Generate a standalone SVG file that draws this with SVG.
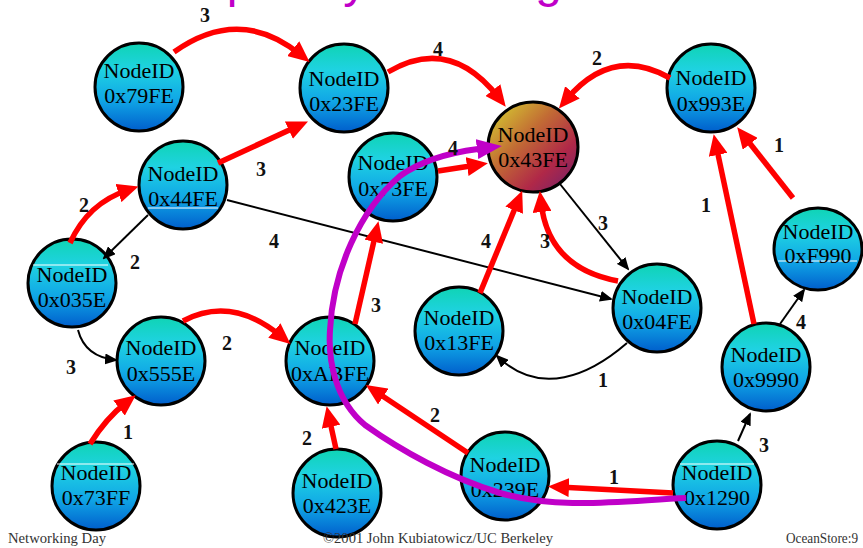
<svg xmlns="http://www.w3.org/2000/svg" width="863" height="548" viewBox="0 0 863 548">
<style>
.nd{stroke:#000;stroke-width:3;fill:url(#gBlue)}
.nt{font-family:"Liberation Serif","Times New Roman",serif;font-size:22px;fill:#000;text-anchor:middle}
.art{stroke:#fff;stroke-width:1.2}
.red{fill:none;stroke:#ff0000;stroke-width:5.5;marker-end:url(#aRed)}
.blk{fill:none;stroke:#000;stroke-width:2;marker-end:url(#aBlk)}
.mag{fill:none;stroke:#c000c8;stroke-width:6;marker-end:url(#aMag)}
.lb{font-family:"Liberation Serif","Times New Roman",serif;font-size:20px;font-weight:bold;fill:#111;text-anchor:middle}
.ft{font-family:"Liberation Serif","Times New Roman",serif;font-size:14px;fill:#333}
</style>
<defs>
<linearGradient id="gBlue" x1="0" y1="0" x2="0" y2="1">
<stop offset="0" stop-color="#0fd4b4"/>
<stop offset="0.3" stop-color="#1fd2e2"/>
<stop offset="0.65" stop-color="#10a6e6"/>
<stop offset="1" stop-color="#005ecc"/>
</linearGradient>
<linearGradient id="gDest" x1="0" y1="0" x2="1" y2="1">
<stop offset="0" stop-color="#d8dc30"/>
<stop offset="0.4" stop-color="#c26c34"/>
<stop offset="0.7" stop-color="#b02848"/>
<stop offset="1" stop-color="#6a2070"/>
</linearGradient>
<marker id="aRed" viewBox="0 0 21 19" refX="10" refY="9.5" markerWidth="21" markerHeight="19" markerUnits="userSpaceOnUse" orient="auto">
<path d="M0,0 L21,9.5 L0,19 z" fill="#ff0000"/>
</marker>
<marker id="aBlk" viewBox="0 0 13 11" refX="11" refY="5.5" markerWidth="13" markerHeight="11" markerUnits="userSpaceOnUse" orient="auto">
<path d="M0,0 L13,5.5 L0,11 z" fill="#000"/>
</marker>
<marker id="aMag" viewBox="0 0 25 20" refX="1" refY="10" markerWidth="25" markerHeight="20" markerUnits="userSpaceOnUse" orient="auto">
<path d="M0,0 L25,10 L0,20 z" fill="#c000c8"/>
</marker>
</defs>
<rect width="863" height="548" fill="#fff"/>
<text x="172" y="-3" font-family="Liberation Sans, Arial, sans-serif" font-size="48" fill="#c000c8" textLength="390" lengthAdjust="spacing">Tapestry Routing</text>

<g id="nodes">
<g id="n79FE"><circle class="nd" cx="139" cy="87" r="44"/><text class="nt" x="139" y="78">NodeID</text><text class="nt" x="139" y="103">0x79FE</text></g>
<g id="n23FE"><circle class="nd" cx="344" cy="88" r="44"/><text class="nt" x="344" y="86">NodeID</text><text class="nt" x="344" y="111">0x23FE</text></g>
<g id="n993E"><circle class="nd" cx="711" cy="88" r="44"/><text class="nt" x="711" y="85">NodeID</text><text class="nt" x="711" y="111">0x993E</text></g>
<g id="n43FE"><circle cx="533" cy="147" r="45" fill="url(#gDest)" stroke="#000" stroke-width="3"/><text class="nt" x="533" y="142">NodeID</text><text class="nt" x="533" y="167">0x43FE</text></g>
<g id="n44FE"><circle class="nd" cx="183" cy="185" r="44"/><line class="art" x1="148" y1="208" x2="218" y2="208"/><text class="nt" x="183" y="181">NodeID</text><text class="nt" x="183" y="206">0x44FE</text></g>
<g id="n73FE"><circle class="nd" cx="393" cy="177" r="44"/><text class="nt" x="393" y="170">NodeID</text><text class="nt" x="393" y="196">0x73FE</text></g>
<g id="n035E"><circle class="nd" cx="72" cy="283" r="44"/><line class="art" x1="33" y1="265" x2="108" y2="265"/><text class="nt" x="72" y="282">NodeID</text><text class="nt" x="72" y="307">0x035E</text></g>
<g id="n555E"><circle class="nd" cx="161" cy="361" r="44"/><text class="nt" x="161" y="355">NodeID</text><text class="nt" x="161" y="381">0x555E</text></g>
<g id="nABFE"><circle class="nd" cx="330" cy="361" r="44"/><text class="nt" x="330" y="355">NodeID</text><text class="nt" x="330" y="381">0xABFE</text></g>
<g id="n73FF"><circle class="nd" cx="96" cy="486" r="44"/><line class="art" x1="57" y1="464" x2="134" y2="464"/><text class="nt" x="96" y="480">NodeID</text><text class="nt" x="96" y="505">0x73FF</text></g>
<g id="n423E"><circle class="nd" cx="337" cy="493" r="44"/><text class="nt" x="337" y="488">NodeID</text><text class="nt" x="337" y="513">0x423E</text></g>
<g id="n13FE"><circle class="nd" cx="459" cy="331" r="44"/><text class="nt" x="459" y="325">NodeID</text><text class="nt" x="459" y="350">0x13FE</text></g>
<g id="n04FE"><circle class="nd" cx="657" cy="308" r="44"/><text class="nt" x="657" y="304">NodeID</text><text class="nt" x="657" y="329">0x04FE</text></g>
<g id="n9990"><circle class="nd" cx="766" cy="367" r="44"/><text class="nt" x="766" y="362">NodeID</text><text class="nt" x="766" y="387">0x9990</text></g>
<g id="nF990"><ellipse class="nd" cx="818" cy="249" rx="44" ry="41"/><line class="art" x1="778" y1="261" x2="857" y2="261"/><text class="nt" x="818" y="239">NodeID</text><text class="nt" x="818" y="263">0xF990</text></g>
<g id="n239E"><circle class="nd" cx="505" cy="476" r="44"/><text class="nt" x="505" y="472">NodeID</text><text class="nt" x="505" y="497">0x239E</text></g>
<g id="n1290"><circle class="nd" cx="717" cy="485" r="44"/><line class="art" x1="680" y1="464" x2="754" y2="464"/><text class="nt" x="717" y="480">NodeID</text><text class="nt" x="717" y="505">0x1290</text></g>
</g>

<g id="connectors">
<path class="blk" d="M148,215 L104,258"/>
<path class="blk" d="M227,200 L611,299"/>
<path class="blk" d="M78,330 Q85,357 116,360"/>
<path class="blk" d="M560,184 L628,269"/>
<path class="blk" d="M627,343 C590,375 540,398 497,356"/>
<path class="blk" d="M780,324 L804,290"/>
<path class="blk" d="M738,441 L750,414"/>

<path class="red" d="M174,52 Q240,5 301,55"/>
<path class="red" d="M388,72 Q450,35 499,98"/>
<path class="red" d="M670,78 Q612,45 566,100"/>
<path class="red" d="M218,163 L298,126"/>
<path class="red" d="M70,243 Q88,203 128,190"/>
<path class="red" d="M90,444 Q106,418 127,402"/>
<path class="red" d="M183,321 Q232,295 282,337"/>
<path class="red" d="M336,449 L329,417"/>
<path class="red" d="M355,324 L376,232"/>
<path class="red" d="M438,171 L477,165"/>
<path class="red" d="M480,293 L518,201"/>
<path class="red" d="M618,281 Q548,268 541,202"/>
<path class="red" d="M754,324 L716,145"/>
<path class="red" d="M793,198 L744,136"/>
<path class="red" d="M673,493 L559,487"/>
<path class="red" d="M468,453 L375,391"/>

<path class="mag" d="M686,498 C620,501 560,510 500,493 C450,478 400,450 365,425 C335,400 328,360 330,330 C333,270 360,210 400,176 C425,158 455,152 478,149"/>
</g>

<g id="labels">
<text class="lb" x="205" y="22">3</text>
<text class="lb" x="438" y="56">4</text>
<text class="lb" x="597" y="65">2</text>
<text class="lb" x="779" y="152">1</text>
<text class="lb" x="261" y="176">3</text>
<text class="lb" x="84" y="212">2</text>
<text class="lb" x="135" y="269">2</text>
<text class="lb" x="274" y="248">4</text>
<text class="lb" x="453" y="155">4</text>
<text class="lb" x="603" y="230">3</text>
<text class="lb" x="706" y="212">1</text>
<text class="lb" x="486" y="248">4</text>
<text class="lb" x="545" y="248">3</text>
<text class="lb" x="376" y="312">3</text>
<text class="lb" x="801" y="329">4</text>
<text class="lb" x="227" y="350">2</text>
<text class="lb" x="71" y="374">3</text>
<text class="lb" x="603" y="387">1</text>
<text class="lb" x="128" y="439">1</text>
<text class="lb" x="307" y="445">2</text>
<text class="lb" x="435" y="422">2</text>
<text class="lb" x="614" y="484">1</text>
<text class="lb" x="764" y="452">3</text>
</g>

<g id="footer">
<text class="ft" x="8" y="543" textLength="98" lengthAdjust="spacingAndGlyphs">Networking Day</text>
<text class="ft" x="323" y="543" textLength="230" lengthAdjust="spacingAndGlyphs">©2001 John Kubiatowicz/UC Berkeley</text>
<text class="ft" x="786" y="543" textLength="72" lengthAdjust="spacingAndGlyphs">OceanStore:9</text>
</g>
</svg>
